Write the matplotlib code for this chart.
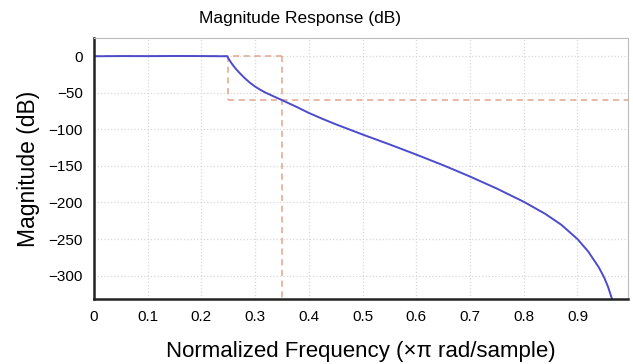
import matplotlib
matplotlib.use("Agg")
import matplotlib.pyplot as plt

# magnitude response
freq = [0.0, 0.05, 0.10, 0.15, 0.20, 0.248, 0.252, 0.256, 0.26, 0.265, 0.27,
        0.28, 0.29, 0.30, 0.31, 0.32, 0.335, 0.35, 0.375, 0.40, 0.425, 0.45,
        0.50, 0.55, 0.60, 0.65, 0.70, 0.75, 0.80, 0.84, 0.87, 0.90, 0.92,
        0.94, 0.95, 0.957, 0.963, 0.966]
mag_db = [0.0, 0.3, 0.2, 0.4, 0.3, 0.0, -5, -9.5, -13.5, -18, -22,
          -29.5, -36, -41.5, -46, -50, -55, -60, -68.5, -77.5, -85.5, -93,
          -107, -120.5, -134.5, -149, -164.5, -181, -199, -215.5, -230.5, -250, -267,
          -289, -303, -315.5, -329, -337]

# specification mask
pass_edge = 0.25
stop_edge = 0.35
stop_atten = -60

x_ticks = [0, 0.1, 0.2, 0.3, 0.4, 0.5, 0.6, 0.7, 0.8, 0.9]
x_tick_labels = ["0", "0.1", "0.2", "0.3", "0.4", "0.5", "0.6", "0.7", "0.8", "0.9"]
y_ticks = [0, -50, -100, -150, -200, -250, -300]

plt.rcParams["font.family"] = ["Liberation Sans", "DejaVu Sans"]

fig = plt.figure(figsize=(6.33, 3.64), dpi=100)
ax = fig.add_axes([0.1485, 0.1786, 0.8435, 0.717])

ax.set_xlim(0, 0.994)
ax.set_ylim(-332, 25)

mask_color = "#e2a48c"
dash = (0, (4, 3))
ax.plot([0, stop_edge], [0, 0], ls=dash, color=mask_color, lw=1.1)
ax.plot([pass_edge, pass_edge], [0, stop_atten], ls=dash, color=mask_color, lw=1.1)
ax.plot([pass_edge, 1.0], [stop_atten, stop_atten], ls=dash, color=mask_color, lw=1.1)
ax.plot([stop_edge, stop_edge], [0, -340], ls=dash, color=mask_color, lw=1.1)

ax.plot(freq, mag_db, color="#4b4bcc", lw=1.4)

ax.set_xticks(x_ticks)
ax.set_xticklabels(x_tick_labels)
ax.set_yticks(y_ticks)
ax.grid(True, color="#d8d8d8", ls=":", lw=0.9)
ax.tick_params(labelsize=11, length=0, pad=8)

for side in ["top", "right"]:
    ax.spines[side].set_color("#bbbbbb")
    ax.spines[side].set_linewidth(0.8)
for side in ["left", "bottom"]:
    ax.spines[side].set_color("#222222")
    ax.spines[side].set_linewidth(1.8)

fig.text(300 / 633, 1 - 18 / 364, "Magnitude Response (dB)", fontsize=12.5,
         ha="center", va="center")
ax.set_xlabel("Normalized Frequency (\u00d7\u03c0 rad/sample)", fontsize=16, labelpad=12)
ax.set_ylabel("Magnitude (dB)", fontsize=16.5, labelpad=6)

fig.savefig("out.png", dpi=100)
